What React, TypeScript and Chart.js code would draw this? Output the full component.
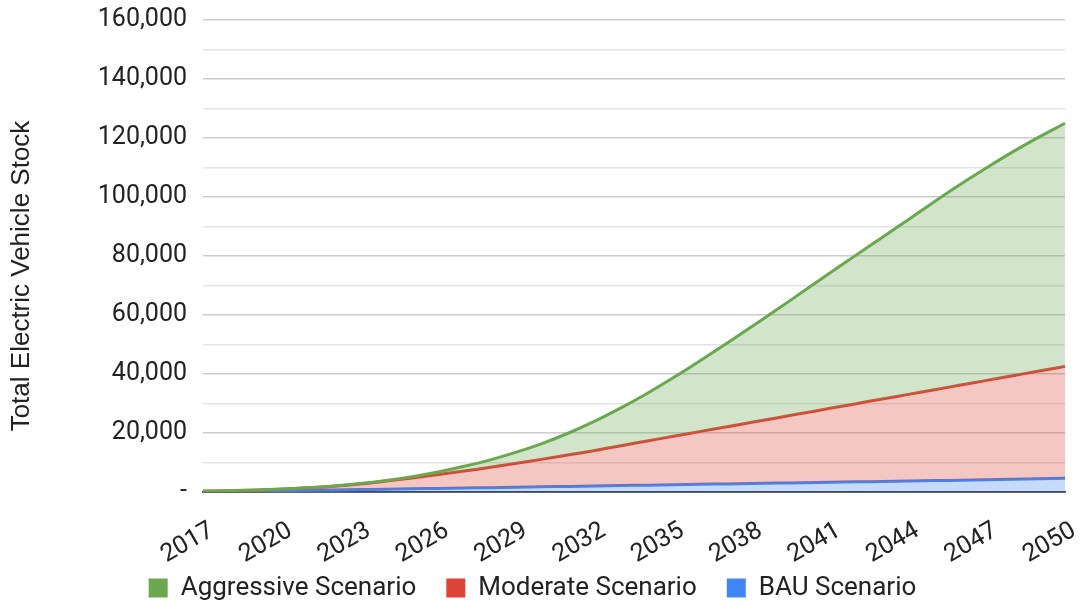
import React, { useEffect, useRef } from "react";
import { Chart, registerables } from "chart.js";

Chart.register(...registerables);

const years: string[] = [
  "2017","2018","2019","2020","2021","2022","2023","2024","2025","2026","2027","2028",
  "2029","2030","2031","2032","2033","2034","2035","2036","2037","2038","2039","2040",
  "2041","2042","2043","2044","2045","2046","2047","2048","2049","2050",
];

const aggressive: number[] = [
  300, 450, 680, 1000, 1450, 2050, 2850, 3900, 5200, 6800, 8700, 10900,
  13500, 16500, 20000, 24000, 28500, 33400, 38700, 44300, 50100, 56000, 62000, 68100,
  74200, 80300, 86300, 92300, 98400, 104300, 109900, 115300, 120300, 125000,
];

const moderate: number[] = [
  250, 400, 620, 950, 1400, 1980, 2750, 3700, 4750, 5900, 7100, 8400,
  9750, 11150, 12600, 14100, 15700, 17300, 18880, 20460, 22040, 23620, 25200, 26780,
  28360, 29940, 31520, 33100, 34680, 36260, 37840, 39420, 41000, 42580,
];

const bau: number[] = [
  100, 220, 340, 460, 580, 700, 820, 950, 1080, 1210, 1340, 1480,
  1620, 1760, 1900, 2040, 2180, 2320, 2460, 2600, 2740, 2880, 3020, 3160,
  3300, 3440, 3580, 3720, 3860, 4010, 4160, 4310, 4460, 4620,
];

const seriesNames: string[] = ["Aggressive Scenario", "Moderate Scenario", "BAU Scenario"];
const lineColors: string[] = ["#6aa84f", "#db4437", "#4285f4"];
const fillColors: string[] = ["rgba(106,168,79,0.3)", "rgba(219,68,55,0.3)", "rgba(66,133,244,0.3)"];

const yTitle = "Total Electric Vehicle Stock";
const FONT = "Roboto";

const yTitlePlugin = {
  id: "yTitleText",
  afterDraw(chart: any) {
    const { ctx, chartArea } = chart;
    ctx.save();
    ctx.font = "26px 'Liberation Sans', Arial, sans-serif";
    ctx.fillStyle = "#222";
    ctx.textAlign = "center";
    ctx.textBaseline = "middle";
    ctx.translate(22, (chartArea.top + chartArea.bottom) / 2 + 20);
    ctx.rotate(-Math.PI / 2);
    ctx.fillText(yTitle, 0, 0);
    ctx.restore();
  },
};

export default function App() {
  const ref = useRef<HTMLCanvasElement | null>(null);

  useEffect(() => {
    if (!ref.current) return;
    const values = [aggressive, moderate, bau];
    const fills: any[] = ["+1", "+1", "origin"];
    const chart = new Chart(ref.current, {
      type: "line",
      data: {
        labels: years,
        datasets: values.map((v, i) => ({
          label: seriesNames[i],
          data: v,
          borderColor: lineColors[i],
          backgroundColor: fillColors[i],
          borderWidth: 3,
          pointRadius: 0,
          fill: fills[i],
          tension: 0.4,
        })),
      },
      plugins: [yTitlePlugin],
      options: {
        responsive: false,
        animation: false,
        layout: { padding: { top: 0, right: 22, left: 0, bottom: -5 } },
        plugins: {
          tooltip: { enabled: false },
          legend: {
            position: "bottom",
            labels: {
              font: { family: FONT, size: 26 },
              color: "#222",
              boxWidth: 19,
              boxHeight: 19,
              padding: 30,
              generateLabels: (c: any) => {
                const items = Chart.defaults.plugins.legend.labels.generateLabels(c);
                return items.map((it: any, i: number) => ({
                  ...it,
                  fillStyle: lineColors[it.datasetIndex ?? i],
                  strokeStyle: lineColors[it.datasetIndex ?? i],
                  lineWidth: 0,
                }));
              },
            },
          },
        },
        scales: {
          x: {
            offset: false,
            grid: { display: false },
            border: { display: true, color: "#333", width: 1.5 },
            afterFit: (scale: any) => {
              scale.height = 53;
              scale.paddingLeft = 0;
              scale.paddingRight = 0;
              scale._computeLabelArea = () => undefined;
            },
            ticks: {
              autoSkip: false,
              maxRotation: 30,
              minRotation: 30,
              labelOffset: 9,
              font: { family: FONT, size: 25 },
              color: "#222",
              padding: 16,
              callback: (val: any, idx: number) => (idx % 3 === 0 ? years[idx] : ""),
            },
          },
          y: {
            min: 0,
            max: 160000,
            border: { display: false },
            afterFit: (scale: any) => {
              scale.paddingTop = 20;
              scale.width = 203;
            },
            grid: {
              color: (ctx: any) => {
                const v = ctx.tick ? ctx.tick.value : 0;
                if (v === 0) return "#333";
                return v % 20000 === 0 ? "#cccccc" : "#e4e4e4";
              },
              lineWidth: 1.5,
              drawTicks: false,
            },
            ticks: {
              stepSize: 10000,
              autoSkip: false,
              padding: 16,
              font: { family: FONT, size: 25 },
              color: "#222",
              callback: (v: any) => {
                const n = Number(v);
                if (n === 0) return "-";
                return n % 20000 === 0 ? n.toLocaleString("en-US") : "";
              },
            },
          },
        },
      },
    });
    return () => chart.destroy();
  }, []);

  return (
    <div style={{ position: "fixed", left: 0, top: 0, width: 1087, height: 606, background: "#fff" }}>
      <canvas ref={ref} width={1087} height={606} style={{ display: "block" }} />
    </div>
  );
}
